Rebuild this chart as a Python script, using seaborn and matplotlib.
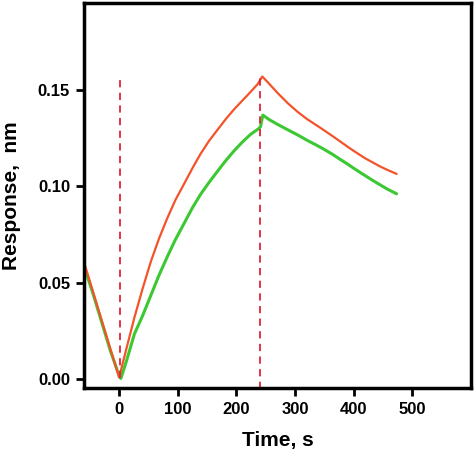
import matplotlib
matplotlib.use("Agg")
import matplotlib.pyplot as plt
import seaborn as sns
import pandas as pd

# ---- data ----
time_red = [-59, -45, -30, -15, 0, 10, 26, 40, 54, 68, 82, 96, 111, 125, 139, 153,
            168, 182, 196, 210, 224, 236, 244, 255, 270, 288, 305, 320, 334, 345,
            362, 376, 390, 402, 420, 432, 444, 458, 473]
resp_red = [0.060, 0.046, 0.031, 0.016, 0.001, 0.013, 0.032, 0.047, 0.061, 0.073,
            0.0835, 0.093, 0.1015, 0.1095, 0.1170, 0.1235, 0.1295, 0.135, 0.140,
            0.1445, 0.149, 0.153, 0.157, 0.1535, 0.1485, 0.143, 0.1385, 0.1350,
            0.1322, 0.1300, 0.1265, 0.1235, 0.1205, 0.1180, 0.1145, 0.1125, 0.1105,
            0.1085, 0.1065]

time_green = [-57, -45, -30, -15, 0, 3, 12, 26, 40, 54, 68, 82, 96, 111, 125, 139,
              153, 168, 182, 196, 210, 224, 238, 241, 245, 255, 270, 288, 305, 320,
              334, 345, 362, 376, 390, 402, 420, 432, 444, 458, 473]
resp_green = [0.056, 0.045, 0.030, 0.015, 0.002, 0.0005, 0.009, 0.0235, 0.033,
              0.0435, 0.054, 0.0635, 0.0725, 0.081, 0.089, 0.096, 0.102, 0.108,
              0.1135, 0.1185, 0.1230, 0.1270, 0.1300, 0.1310, 0.1370, 0.1348, 0.1322,
              0.1293, 0.1266, 0.1240, 0.1218, 0.1200, 0.1170, 0.1142, 0.1115, 0.1090,
              0.1055, 0.1032, 0.1010, 0.0985, 0.0962]

event_times = [2, 240]
event_ymin = [0.001, -0.005]
event_ymax = [0.157, 0.157]

x_ticks = [0, 100, 200, 300, 400, 500]
y_ticks = [0.00, 0.05, 0.10, 0.15]

sns.set_style("white")
plt.rcParams["font.family"] = ["Liberation Sans", "DejaVu Sans"]
plt.rcParams["text.color"] = "black"
plt.rcParams["axes.labelcolor"] = "black"
plt.rcParams["xtick.color"] = "black"
plt.rcParams["ytick.color"] = "black"

fig = plt.figure(figsize=(4.74, 4.55), dpi=100)
ax = fig.add_axes([0.177, 0.147, 0.817, 0.846])

df_red = pd.DataFrame({"t": time_red, "r": resp_red})
df_green = pd.DataFrame({"t": time_green, "r": resp_green})

sns.lineplot(data=df_green, x="t", y="r", ax=ax, color="#3cc832", lw=2.2,
             sort=False, estimator=None)
sns.lineplot(data=df_red, x="t", y="r", ax=ax, color="#f4532a", lw=1.6,
             sort=False, estimator=None)

ax.vlines(event_times, event_ymin, event_ymax, colors="#e0243c",
          linestyles=(0, (4, 3)), lw=1.3)

ax.set_xlim(-60, 600)
ax.set_ylim(-0.0045, 0.195)
ax.set_xticks(x_ticks)
ax.set_yticks(y_ticks)
ax.set_xticklabels([str(v) for v in x_ticks], fontsize=12, fontweight="bold",
                   color="black")
ax.set_yticklabels([f"{v:.2f}" for v in y_ticks], fontsize=12, fontweight="bold",
                   color="black")
ax.tick_params(axis="both", direction="out", length=6, width=2, pad=4,
               bottom=True, left=True, colors="black")
for s in ax.spines.values():
    s.set_linewidth(2.5)
    s.set_color("black")

ax.set_xlabel("Time, s", fontsize=15, fontweight="bold", labelpad=10,
              color="black")
ax.set_ylabel("Response,  nm", fontsize=15, fontweight="bold", labelpad=12,
              color="black")

fig.savefig("out.png", dpi=100)
